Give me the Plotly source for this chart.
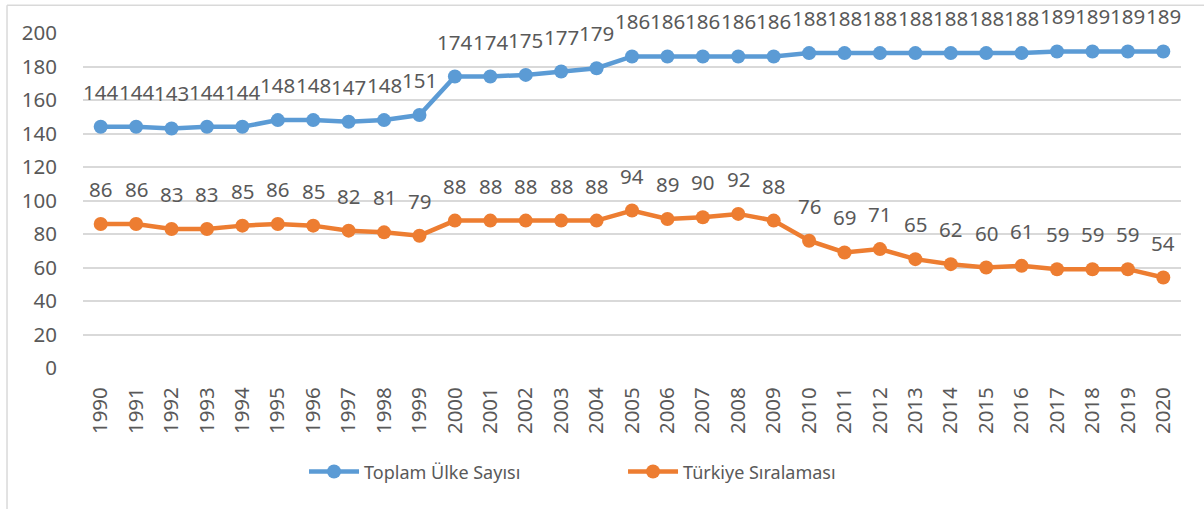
import plotly.graph_objects as go

years = [str(y) for y in range(1990, 2021)]
toplam = [144, 144, 143, 144, 144, 148, 148, 147, 148, 151,
          174, 174, 175, 177, 179, 186, 186, 186, 186, 186,
          188, 188, 188, 188, 188, 188, 188, 189, 189, 189, 189]
turkiye = [86, 86, 83, 83, 85, 86, 85, 82, 81, 79,
           88, 88, 88, 88, 88, 94, 89, 90, 92, 88,
           76, 69, 71, 65, 62, 60, 61, 59, 59, 59, 54]
y_ticks = list(range(0, 201, 20))

BLUE = "#5B9BD5"
ORANGE = "#ED7D31"
TXT = "#595959"
FONT = "Noto Sans"
FS = 20.5
LFS = 18

fig = go.Figure()
fig.add_trace(go.Scatter(x=years, y=toplam, mode="lines+markers", name="Toplam Ülke Sayısı",
                         line=dict(color=BLUE, width=4.5), marker=dict(size=14, color=BLUE)))
fig.add_trace(go.Scatter(x=years, y=turkiye, mode="lines+markers", name="Türkiye Sıralaması",
                         line=dict(color=ORANGE, width=4.5), marker=dict(size=14, color=ORANGE)))

annotations = []
for ys in (toplam, turkiye):
    for i, yv in enumerate(ys):
        annotations.append(dict(x=i, y=yv, xref="x", yref="y", text=str(yv), showarrow=False,
                                xanchor="center", yanchor="bottom", yshift=19,
                                font=dict(family=FONT, size=FS, color=TXT)))

fig.update_layout(
    width=1204, height=509,
    margin=dict(l=83, r=23, t=33, b=141),
    paper_bgcolor="white", plot_bgcolor="white",
    font=dict(family=FONT, size=FS, color=TXT),
    showlegend=True,
    legend=dict(orientation="h", x=0.2013, xanchor="left", y=-0.31, yanchor="middle",
                font=dict(family=FONT, size=LFS, color=TXT), itemwidth=50,
                entrywidth=254, entrywidthmode="pixels"),
    annotations=annotations,
    shapes=[
        dict(type="line", xref="paper", yref="paper", x0=-0.0692, x1=-0.0692, y0=1.083, y1=-0.5,
             line=dict(color="#D9D9D9", width=1.5)),
        dict(type="line", xref="paper", yref="paper", x0=-0.0692, x1=1.03, y0=1.083, y1=1.083,
             line=dict(color="#D9D9D9", width=1.5)),
    ],
)
fig.update_xaxes(type="category", range=[-0.5, len(years) - 0.5], tickangle=-90, showgrid=False,
                 zeroline=False, showline=False, ticks="outside", ticklen=10,
                 tickcolor="rgba(0,0,0,0)", tickfont=dict(family=FONT, size=FS, color=TXT))
fig.update_yaxes(range=[0, 200], tickvals=y_ticks, showgrid=True, gridcolor="#D9D9D9", gridwidth=1.5,
                 zeroline=False, showline=False, ticks="outside", ticklen=21, tickcolor="rgba(0,0,0,0)",
                 tickfont=dict(family=FONT, size=FS, color=TXT))

fig.write_html("out.html", config={"displayModeBar": False},
               post_script="document.body.style.margin='0';document.body.style.overflow='hidden';")
